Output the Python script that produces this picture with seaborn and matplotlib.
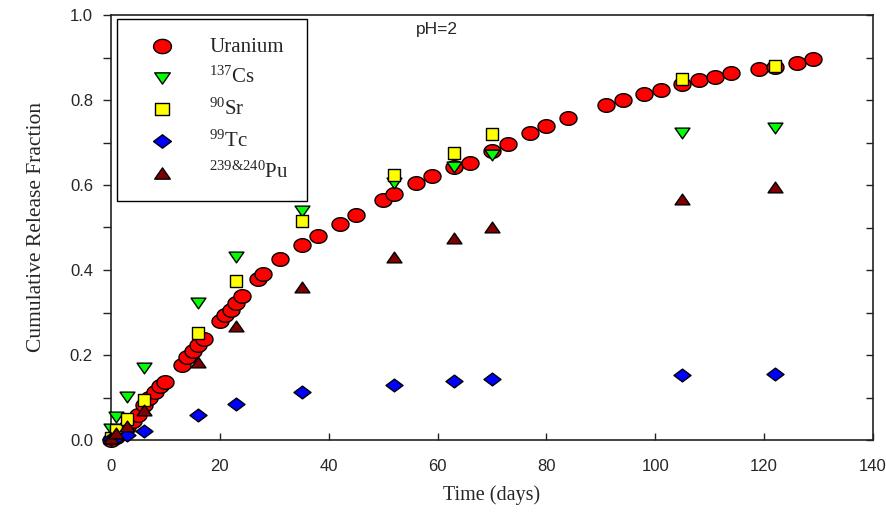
import numpy as np
import pandas as pd
import matplotlib
matplotlib.use("Agg")
import matplotlib.pyplot as plt
from matplotlib.path import Path
from matplotlib.ticker import MultipleLocator
from matplotlib.mathtext import MathTextParser
import seaborn as sns

# ---------------- data ----------------
u_days = [0, 1, 2, 3, 4, 5, 6, 7, 8, 9, 10, 13, 14, 15, 16, 17, 20, 21, 22, 23, 24,
          27, 28, 31, 35, 38, 42, 45, 50, 52, 56, 59, 63, 66, 70, 73, 77, 80, 84,
          91, 94, 98, 101, 105, 108, 111, 114, 119, 122, 126, 129]
u_frac = [0.0, 0.008, 0.018, 0.03, 0.045, 0.06, 0.082, 0.10, 0.113, 0.127, 0.137,
          0.176, 0.195, 0.21, 0.224, 0.237, 0.281, 0.294, 0.307, 0.323, 0.339,
          0.378, 0.391, 0.427, 0.46, 0.48, 0.508, 0.529, 0.565, 0.578, 0.604, 0.621,
          0.642, 0.651, 0.68, 0.697, 0.722, 0.738, 0.758, 0.788, 0.799, 0.815, 0.824,
          0.838, 0.847, 0.855, 0.863, 0.872, 0.878, 0.888, 0.896]

iso_days = [0, 1, 3, 6, 16, 23, 35, 52, 63, 70, 105, 122]
cs_frac = [0.025, 0.053, 0.102, 0.17, 0.323, 0.431, 0.539, 0.605, 0.643, 0.671, 0.722, 0.733]
sr_frac = [0.005, 0.023, 0.049, 0.093, 0.252, 0.375, 0.515, 0.624, 0.676, 0.719, 0.849, 0.881]
tc_frac = [0.003, 0.004, 0.012, 0.021, 0.059, 0.085, 0.113, 0.13, 0.14, 0.144, 0.152, 0.156]
pu_frac = [0.004, 0.016, 0.033, 0.07, 0.184, 0.268, 0.359, 0.431, 0.475, 0.502, 0.566, 0.595]

pu_label = r"$^{239&240}$Pu"
labels = ["Uranium", r"$^{137}$Cs", r"$^{90}$Sr", r"$^{99}$Tc", pu_label]
x_ticks = [0, 20, 40, 60, 80, 100, 120, 140]
y_ticks = [0.0, 0.2, 0.4, 0.6, 0.8, 1.0]

# ---------------- style ----------------
sns.set_theme(style="ticks")
plt.rcParams["font.family"] = ["Liberation Sans", "DejaVu Sans"]
plt.rcParams["mathtext.fontset"] = "custom"
plt.rcParams["mathtext.rm"] = "Liberation Serif"
plt.rcParams["mathtext.it"] = "Liberation Serif:italic"

try:
    MathTextParser("agg").parse(pu_label, 100)
except Exception:
    labels[4] = r"$^{239}$&$^{240}$Pu"

# stretched marker shapes (original appears horizontally stretched)
t = np.linspace(0, 2 * np.pi, 60)
ellipse = Path(np.column_stack([np.cos(t), 0.8 * np.sin(t)]), closed=True)
tri_down = Path([(-1, 0.72), (1, 0.72), (0, -0.72), (-1, 0.72)], closed=True)
tri_up = Path([(-1, -0.72), (1, -0.72), (0, 0.72), (-1, -0.72)], closed=True)
diamond = Path([(-1, 0), (0, 0.75), (1, 0), (0, -0.75), (-1, 0)], closed=True)
square = Path([(-1, -0.92), (1, -0.92), (1, 0.92), (-1, 0.92), (-1, -0.92)], closed=True)

fig = plt.figure(figsize=(8.87, 5.14), dpi=100)
ax = fig.add_axes([111 / 887, 1 - 440 / 514, 762 / 887, 425 / 514])

series = [
    (u_days, u_frac, ellipse, "#ff0000", 150, labels[0]),
    (iso_days, cs_frac, tri_down, "#00ff00", 115, labels[1]),
    (iso_days, sr_frac, square, "#ffff00", 85, labels[2]),
    (iso_days, tc_frac, diamond, "#0000ff", 150, labels[3]),
    (iso_days, pu_frac, tri_up, "#800000", 115, labels[4]),
]
for xs, ys, mk, col, s, lab in series:
    df = pd.DataFrame({"x": xs, "y": ys})
    sns.scatterplot(data=df, x="x", y="y", marker=mk, s=s, color=col,
                    edgecolor="black", linewidth=1.0, label=lab, ax=ax, zorder=3,
                    clip_on=False)

ax.set_xlim(0, 140)
ax.set_ylim(0, 1.0)
ax.set_xticks(x_ticks)
ax.set_yticks(y_ticks)
ax.set_yticklabels([f"{v:.1f}" for v in y_ticks])
ax.yaxis.set_minor_locator(MultipleLocator(0.1))

for sp in ax.spines.values():
    sp.set_visible(True)
    sp.set_color("#222222")
    sp.set_linewidth(1.2)

ax.tick_params(axis="x", which="major", direction="in", length=5, width=1,
               labelsize=12, pad=14, top=False, color="#222222")
ax.tick_params(axis="y", which="both", direction="out", length=6, width=1,
               labelsize=12, pad=7, right=False, color="#222222")

# right-side inward ticks
sec = ax.secondary_yaxis("right")
sec.set_yticks([0.1 * i for i in range(11)])
sec.tick_params(direction="in", length=5, width=1, labelright=False, color="#222222")
sec.spines["right"].set_visible(False)

ax.set_xlabel("Time (days)", family=["Liberation Serif"], fontsize=14.5, labelpad=8)
ax.set_ylabel("Cumulative Release Fraction", family=["Liberation Serif"], fontsize=15.5,
              labelpad=17)

ax.text(59.9, 0.965, "pH=2", fontsize=12.5, ha="center", va="center")

leg = ax.legend(loc="upper left", bbox_to_anchor=(0.0075, 0.99), borderaxespad=0,
                frameon=True, fancybox=False, edgecolor="black", framealpha=1,
                prop={"family": "Liberation Serif", "size": 15},
                borderpad=0.85, handlelength=2.6, handletextpad=1.0, labelspacing=0.5,
                markerscale=1.05)
leg.get_frame().set_linewidth(1.0)

fig.savefig("out.png", dpi=100)
